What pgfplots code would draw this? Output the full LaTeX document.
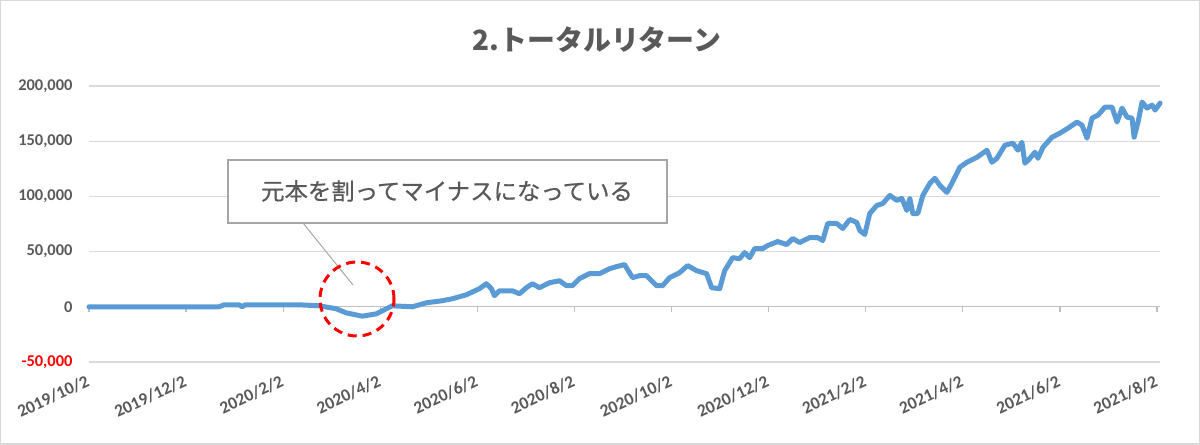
\documentclass[border=0pt]{standalone}
\usepackage{pgfplots}
\pgfplotsset{compat=1.18}
\usepackage{fontspec}
\setmainfont{Carlito}
\newfontfamily\jpfont{Noto Sans CJK JP}
\newfontfamily\jpmed[FakeBold=0.6]{Noto Sans CJK JP}
\definecolor{txtgray}{HTML}{595959}
\definecolor{gridgray}{HTML}{D9D9D9}
\definecolor{tickgray}{HTML}{BFBFBF}
\definecolor{lineblue}{HTML}{5B9BD5}
\definecolor{boxgray}{HTML}{A6A6A6}
\begin{document}
\begin{tikzpicture}[x=1bp,y=1bp]
\begin{axis}[scale only axis,
  width=1071bp, height=276bp,
  xmin=0, xmax=22.06, ymin=-50000, ymax=200000,
  axis line style={draw=none}, tick style={draw=none},
  scaled y ticks=false,
  ymajorgrids, grid style={gridgray, line width=1.2bp},
  ytick={-50000,0,50000,100000,150000,200000},
  yticklabels={{\textcolor{red}{-50,000}},0,{50,000},{100,000},{150,000},{200,000}},
  xtick={0,2,...,22},
  xticklabels={2019/10/2,2019/12/2,2020/2/2,2020/4/2,2020/6/2,2020/8/2,2020/10/2,2020/12/2,2021/2/2,2021/4/2,2021/6/2,2021/8/2},
  tick label style={text=txtgray},
  yticklabel style={font=\fontsize{16.5}{18}\selectfont\bfseries, xshift=-13bp},
  xticklabel style={font=\fontsize{17.5}{19}\selectfont\bfseries, rotate=25, anchor=north east, yshift=-6bp, xshift=-5bp},
  clip=false,
]
\draw[tickgray, line width=1.2bp] (axis cs:0,0) -- (axis cs:22.06,0);
\pgfplotsinvokeforeach{0,2,...,22}{\draw[tickgray, line width=1.2bp] (axis cs:#1,0) -- (axis cs:#1,-4500);}
\addplot[lineblue, line width=5bp, line join=round, line cap=round] coordinates {
(0,0) (1.237,0) (2.680,0) (2.784,1800) (3.093,1800) (3.155,0) (3.216,1800)
(3.918,1800) (4.330,1800) (4.742,900) (5.093,-1800) (5.299,-5500) (5.629,-8500)
(5.918,-6400) (6.124,-1800) (6.247,900) (6.660,0) (6.948,3600) (7.278,5500)
(7.485,7300) (7.773,10900) (8.041,16400) (8.186,20900) (8.289,16400) (8.351,10000)
(8.454,14500) (8.722,14500) (8.866,11800) (9.010,17300) (9.134,20900) (9.278,17300)
(9.485,21800) (9.691,23600) (9.835,19100) (9.959,19100) (10.103,25500) (10.309,30000)
(10.515,30000) (10.722,34500) (10.866,36400) (11.031,38200) (11.196,26400) (11.340,28200)
(11.485,28200) (11.691,19100) (11.814,19100) (11.959,26400) (12.165,30900) (12.330,37300)
(12.515,32700) (12.722,30000) (12.825,17300) (12.990,16400) (13.093,32700) (13.258,44500)
(13.402,43600) (13.505,49100) (13.608,44500) (13.711,52700) (13.876,52700) (13.979,55500)
(14.186,59100) (14.371,56400) (14.495,61800) (14.639,58200) (14.845,62700) (15.010,62700)
(15.113,60000) (15.216,75500) (15.402,75500) (15.526,70900) (15.670,79100) (15.814,76400)
(15.876,69100) (15.979,65500) (16.082,84500) (16.227,91800) (16.351,93600) (16.495,100900)
(16.639,96400) (16.742,98200) (16.845,87300) (16.907,98200) (16.969,84500) (17.072,84500)
(17.175,100900) (17.320,111800) (17.423,116400) (17.526,110000) (17.670,103600) (17.773,111800)
(17.938,126400) (18.082,130900) (18.289,135400) (18.495,141800) (18.598,130900) (18.701,134500)
(18.866,146400) (19.031,148200) (19.134,141800) (19.216,149100) (19.278,130000) (19.381,134500)
(19.485,140000) (19.546,134500) (19.649,144500) (19.835,153600) (20.000,157300) (20.165,161800)
(20.351,167300) (20.454,164500) (20.557,152700) (20.660,170900) (20.784,173600) (20.928,180900)
(21.072,180900) (21.175,167300) (21.278,180000) (21.381,171800) (21.485,170900) (21.526,153600)
(21.608,167300) (21.691,185500) (21.794,180000) (21.897,182700) (21.959,178200) (22.062,184500)
};
\end{axis}
\pgfresetboundingbox
\begin{scope}[shift={(current axis.south west)}]
\begin{scope}[shift={(-89,-83)}]
\useasboundingbox (0,0) rectangle (1200,445);
\draw[gridgray, line width=1.5bp] (0.75,0.75) rectangle (1199.25,444.25);
\node[font=\jpfont\bfseries\fontsize{28}{32}\selectfont, text=txtgray] at (597,405) {2.トータルリターン};
\draw[boxgray, line width=1bp] (303,222) -- (353,160);
\draw[boxgray, line width=1.2bp, fill=white] (228,222) rectangle (667,285);
\node[font=\jpmed\fontsize{23.5}{27}\selectfont, text=txtgray] at (447,254) {元本を割ってマイナスになっている};
\draw[red, line width=3bp, dash pattern=on 9bp off 6bp] (357,146) circle (37bp);
\end{scope}
\end{scope}
\end{tikzpicture}
\end{document}
